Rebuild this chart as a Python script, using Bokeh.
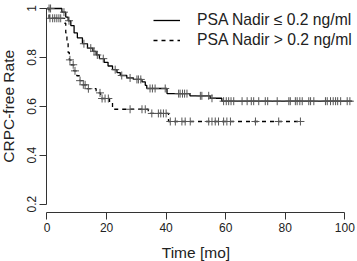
import numpy as np
from bokeh.plotting import figure
from bokeh.models import Range1d, FixedTicker, Legend, LegendItem, Label, LinearAxis
from bokeh.embed import file_html
from bokeh.resources import INLINE

# Kaplan-Meier step data
solid_time = [0, 5.0, 6.3, 7.1, 8.0, 9.1, 10.2, 11.9, 13.6, 15.4, 16.5, 17.6, 19.2, 20.5,
              22.0, 23.5, 24.6, 26.8, 29.0, 31.9, 33.0, 33.5, 40.3, 48.0, 54.8, 58.7, 102.5]
solid_surv = [1.0, 0.985, 0.965, 0.950, 0.930, 0.900, 0.880, 0.856, 0.838, 0.825, 0.810, 0.795,
              0.780, 0.765, 0.750, 0.738, 0.726, 0.716, 0.710, 0.700, 0.686, 0.673, 0.652,
              0.643, 0.633, 0.621, 0.621]
solid_censor = [0.7, 1.2, 5.7, 7.4, 12.4, 14.7, 15.8, 16.9, 18.9, 22.9, 25.1, 27.9, 30.2, 30.7,
                31.5, 34.6, 35.4, 36.3, 39.7, 44.2, 44.7, 45.5, 46.2, 47.0, 51.5, 52.0, 54.3,
                55.4, 59.3, 60.2, 61.0, 61.8, 62.7, 65.5, 67.2, 68.6, 69.4, 71.1, 73.3, 74.1,
                77.3, 81.2, 81.7, 83.4, 84.0, 84.9, 85.7, 87.9, 88.5, 89.6, 93.5, 94.1, 95.2,
                96.1, 96.9, 97.6, 98.6, 100.8, 101.7]

dash_time = [0, 0.7, 5.9, 6.3, 6.7, 7.1, 7.5, 8.0, 9.0, 10.0, 11.0, 12.0, 13.2, 16.5, 18.0,
             21.0, 22.0, 34.0, 40.8, 85.1]
dash_surv = [1.0, 0.96, 0.94, 0.90, 0.86, 0.82, 0.79, 0.77, 0.745, 0.725, 0.705, 0.688, 0.672,
             0.655, 0.632, 0.615, 0.588, 0.571, 0.538, 0.538]
dash_censor = [1.0, 1.9, 2.6, 3.3, 4.0, 4.6, 7.7, 8.8, 9.4, 11.1, 12.2, 12.8, 13.9, 17.8, 18.5,
               19.5, 20.6, 27.9, 31.9, 33.0, 35.2, 37.4, 38.2, 39.1, 40.0, 41.4, 43.1, 45.3,
               46.4, 48.1, 54.3, 55.4, 56.5, 57.6, 59.3, 60.4, 61.6, 70.0, 77.8, 85.1]

x_ticks = [0, 20, 40, 60, 80, 100]
y_ticks = [0.2, 0.4, 0.6, 0.8, 1.0]
labels = ["PSA Nadir \u2264 0.2 ng/ml", "PSA Nadir > 0.2 ng/ml"]
x_title = "Time [mo]"
y_title = "CRPC-free Rate"


def step_value(times, surv, t):
    idx = np.searchsorted(np.asarray(times), np.asarray(t), side="right") - 1
    return np.asarray(surv)[idx]


FONT = "Liberation Sans"
AX = "#333333"
TXT = "#222222"

# frame covers the whole canvas; axes are placed R-style at fixed locations
p = figure(width=357, height=261, output_backend="svg", toolbar_location=None,
           x_range=Range1d(-15.61, 104.26), y_range=Range1d(-0.0344, 1.0327),
           x_axis_type=None, y_axis_type=None,
           min_border_left=0, min_border_right=0, min_border_top=0, min_border_bottom=0)
p.outline_line_color = None
p.grid.visible = False
p.background_fill_color = "white"
p.border_fill_color = "white"

r1 = p.step(solid_time, solid_surv, mode="after", line_color="black", line_width=1.3)
r2 = p.step(dash_time, dash_surv, mode="after", line_color="black", line_width=1.3,
            line_dash="4 4")
p.scatter(solid_censor, step_value(solid_time, solid_surv, solid_censor), marker="cross",
          size=8, line_color="#555555", line_width=1)
p.scatter(dash_censor, step_value(dash_time, dash_surv, dash_censor), marker="cross",
          size=8, line_color="#555555", line_width=1)

xaxis = LinearAxis(fixed_location=0.1672, ticker=FixedTicker(ticks=x_ticks), bounds=(0, 100),
                   major_label_standoff=4)
yaxis = LinearAxis(fixed_location=0, ticker=FixedTicker(ticks=y_ticks), bounds=(0.2, 1.0),
                   major_label_orientation="vertical", major_label_standoff=4)
for ax in (xaxis, yaxis):
    ax.axis_line_color = AX
    ax.major_tick_line_color = AX
    ax.minor_tick_line_color = None
    ax.major_tick_in = 0
    ax.major_tick_out = 7
    ax.major_label_text_font = FONT
    ax.major_label_text_font_size = "12px"
    ax.major_label_text_color = TXT
p.add_layout(xaxis, "below")
p.add_layout(yaxis, "left")

# axis titles (screen offsets measured from frame bottom / left)
p.add_layout(Label(x=50, y=9.3, x_units="data", y_units="screen", text=x_title,
                   text_align="center", text_baseline="middle", text_font=FONT,
                   text_font_size="15.5px", text_color=TXT))
p.add_layout(Label(x=8, y=0.6, x_units="screen", y_units="data", text=y_title,
                   angle=np.pi / 2, text_align="center", text_baseline="middle",
                   text_font=FONT, text_font_size="15.5px", text_color=TXT))

legend = Legend(items=[LegendItem(label=labels[0], renderers=[r1]),
                       LegendItem(label=labels[1], renderers=[r2])],
                location=(153, 211), orientation="vertical",
                glyph_width=27, glyph_height=20, label_height=20, label_standoff=17,
                spacing=0, padding=0, margin=0,
                border_line_color=None, background_fill_alpha=0,
                label_text_font=FONT, label_text_font_size="15.7px",
                label_text_color=TXT)
p.add_layout(legend)

open("out.html", "w").write(file_html(p, INLINE))
